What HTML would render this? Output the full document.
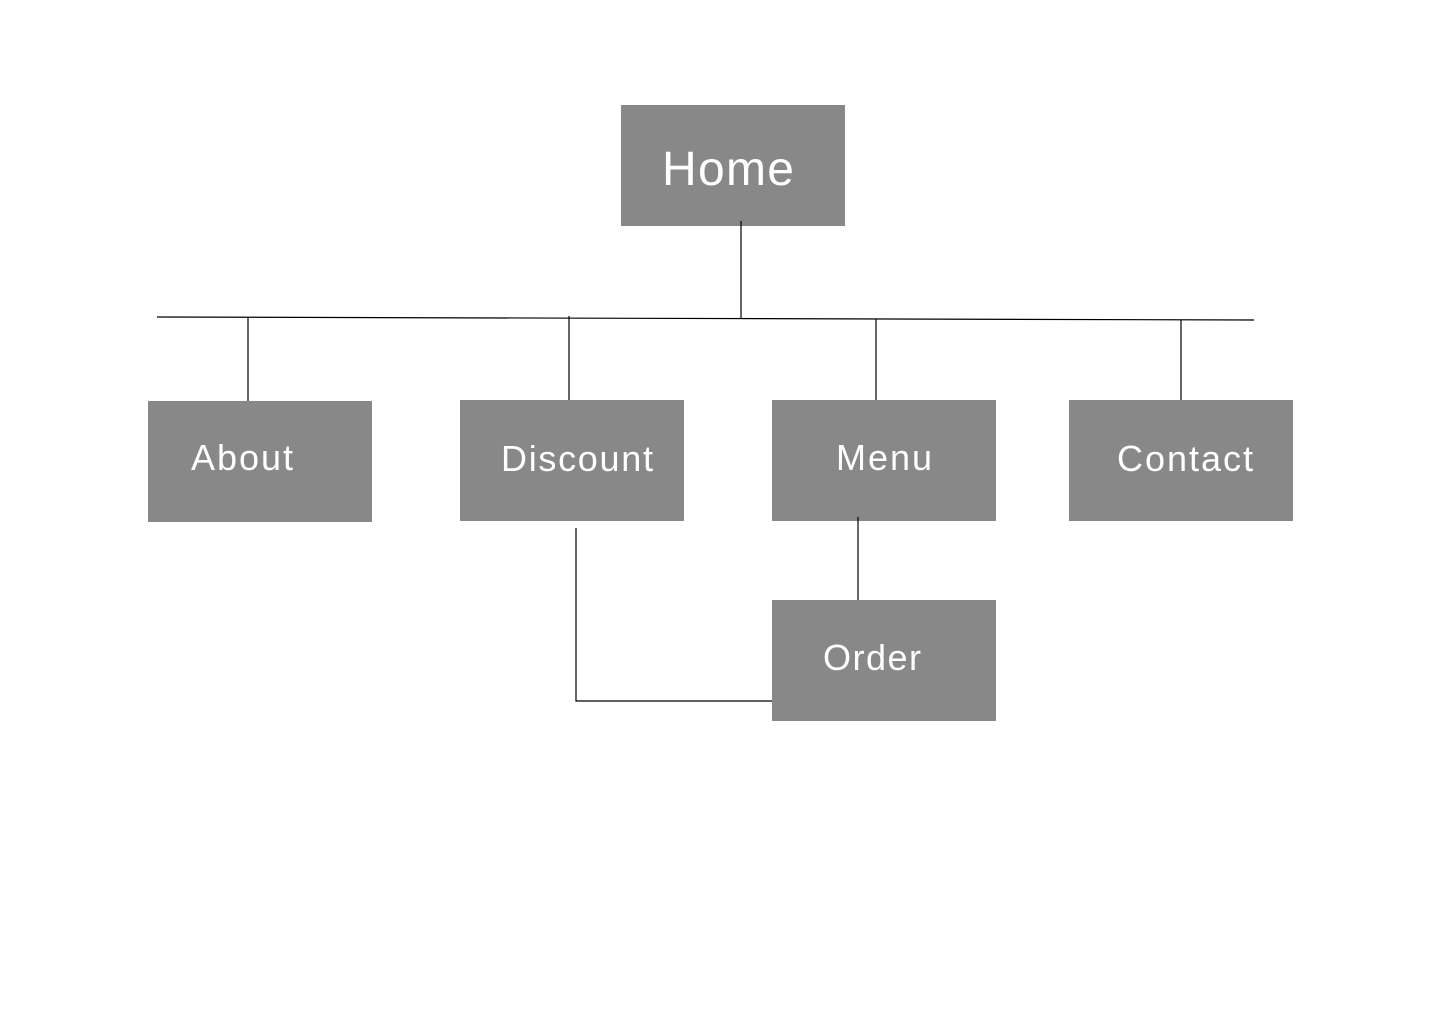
<!DOCTYPE html>
<html><head><meta charset="utf-8"><style>
html,body{margin:0;padding:0;background:#fff;width:1440px;height:1024px;overflow:hidden}
svg{display:block}
text{font-family:"Liberation Sans",sans-serif;fill:#fff}
</style></head><body>
<svg width="1440" height="1024" viewBox="0 0 1440 1024">
<g fill="#888888">
<rect x="621" y="105" width="224" height="121"/>
<rect x="148" y="401" width="224" height="121"/>
<rect x="460" y="400" width="224" height="121"/>
<rect x="772" y="400" width="224" height="121"/>
<rect x="1069" y="400" width="224" height="121"/>
<rect x="772" y="600" width="224" height="121"/>
</g>
<g stroke="#000" stroke-width="1.2" fill="none">
<line x1="741" y1="221" x2="741" y2="319"/>
<line x1="157" y1="317" x2="1254" y2="320"/>
<line x1="248" y1="318" x2="248" y2="401"/>
<line x1="569" y1="316" x2="569" y2="400"/>
<line x1="876" y1="319" x2="876" y2="400"/>
<line x1="1181" y1="320" x2="1181" y2="400"/>
<line x1="858" y1="517" x2="858" y2="600"/>
<polyline points="576,528 576,701 772,701"/>
</g>
<text x="662" y="185" font-size="48" textLength="132" lengthAdjust="spacing">Home</text>
<text x="191" y="470" font-size="36" textLength="102" lengthAdjust="spacing">About</text>
<text x="501" y="471" font-size="36" textLength="152" lengthAdjust="spacing">Discount</text>
<text x="836" y="470" font-size="36" textLength="96" lengthAdjust="spacing">Menu</text>
<text x="1117" y="471" font-size="36" textLength="136" lengthAdjust="spacing">Contact</text>
<text x="823" y="670" font-size="36" textLength="98" lengthAdjust="spacing">Order</text>
</svg>
</body></html>
